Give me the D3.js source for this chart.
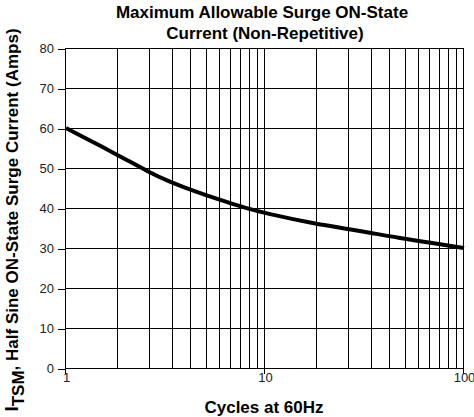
<!DOCTYPE html>
<html><head><meta charset="utf-8">
<script src="https://cdn.jsdelivr.net/npm/d3@7"></script>
<style>body{margin:0;background:#fff}svg{display:block;font-family:"Liberation Sans",Arial,sans-serif}</style>
</head><body><svg id="c" width="474" height="417"></svg>
<script>
const cycles = [1, 1.8, 2.6, 3.3, 4.4, 6.4, 8, 10, 18, 26, 34, 46, 70, 100];
const current = [60, 53.4, 49, 46.6, 44.2, 41.5, 40, 38.7, 36, 34.8, 33.8, 32.6, 31.2, 30];
const yTicks = [0, 10, 20, 30, 40, 50, 60, 70, 80];
const xTickLabels = [1, 10, 100];
const gridX = [1.82, 2.64, 3.45, 4.27, 5.09, 5.91, 6.73, 7.55, 8.36, 9.18,
               18.2, 26.4, 34.5, 42.7, 50.9, 59.1, 67.3, 75.5, 83.6, 91.8];

const svg = d3.select("#c");
const L = 66, R = 464, T = 48, B = 368;
const x = d3.scaleLog().domain([1, 100]).range([L, R]);
const y = d3.scaleLinear().domain([0, 80]).range([B, T]);
const px = v => Math.round(v) - 0.5;

const g = svg.append("g").attr("shape-rendering", "crispEdges");
g.selectAll(".gx").data(gridX).enter().append("line")
  .attr("x1", d => px(x(d))).attr("x2", d => px(x(d)))
  .attr("y1", T).attr("y2", B).attr("stroke", "#000").attr("stroke-width", 1);
g.selectAll(".gy").data(yTicks).enter().append("line")
  .attr("x1", L - 1).attr("x2", R).attr("y1", d => Math.round(y(d)) + 0.5).attr("y2", d => Math.round(y(d)) + 0.5)
  .attr("stroke", "#000").attr("stroke-width", 1);
g.selectAll(".mx").data(xTickLabels).enter().append("line")
  .attr("x1", d => px(x(d))).attr("x2", d => px(x(d)))
  .attr("y1", T).attr("y2", B + 6).attr("stroke", "#000");

const ya = svg.append("g").attr("transform", `translate(${L - 1},0)`)
  .call(d3.axisLeft(y).tickValues(yTicks).tickSize(7).tickPadding(4));
ya.select(".domain").remove();
ya.selectAll("line").attr("shape-rendering", "crispEdges").attr("transform", "translate(0,0.5)");
ya.selectAll("text").attr("font-size", 13).attr("fill", "#222").attr("font-family", "Liberation Sans, Arial, sans-serif");

const xa = svg.append("g").attr("transform", `translate(0,${B})`)
  .call(d3.axisBottom(x).tickValues(xTickLabels).tickFormat(d3.format("d")).tickSize(0).tickPadding(5));
xa.select(".domain").remove();
xa.selectAll("text").attr("font-size", 13).attr("fill", "#222").attr("font-family", "Liberation Sans, Arial, sans-serif");

const line = d3.line().x(d => x(d[0])).y(d => y(d[1])).curve(d3.curveBasis);
svg.append("path").datum(cycles.map((c, i) => [c, current[i]]))
  .attr("d", line).attr("fill", "none").attr("stroke", "#000").attr("stroke-width", 4)
  .attr("stroke-linejoin", "round");

svg.append("text").attr("x", 262).attr("y", 18).attr("text-anchor", "middle")
  .attr("font-size", 17).attr("font-weight", "bold").text("Maximum Allowable Surge ON-State");
svg.append("text").attr("x", 265).attr("y", 39).attr("text-anchor", "middle")
  .attr("font-size", 17).attr("font-weight", "bold").text("Current (Non-Repetitive)");
svg.append("text").attr("x", 264).attr("y", 413).attr("text-anchor", "middle")
  .attr("font-size", 17).attr("font-weight", "bold").text("Cycles at 60Hz");

const yl = svg.append("text").attr("transform", "translate(18,220) rotate(-90)").attr("text-anchor", "middle")
  .attr("font-size", 17).attr("font-weight", "bold");
yl.append("tspan").attr("font-size", 19).text("I");
yl.append("tspan").attr("dy", 6).text("TSM");
yl.append("tspan").attr("dy", -6).text(", Half Sine ON-State Surge Current (Amps)");
</script></body></html>
